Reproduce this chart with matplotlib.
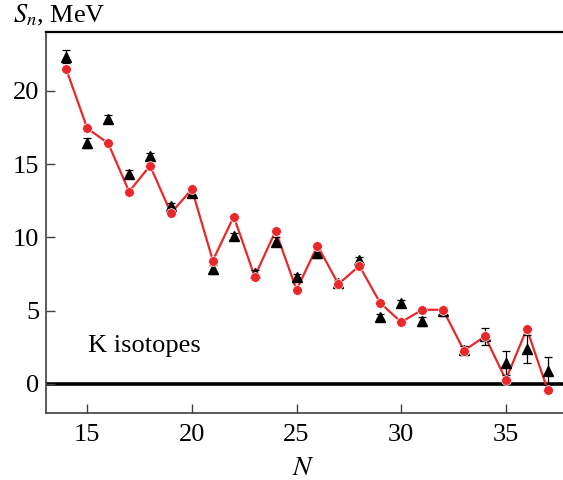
import matplotlib
matplotlib.use('Agg')
import matplotlib.pyplot as plt

plt.rcParams['font.family'] = ['Liberation Serif', 'DejaVu Serif']
plt.rcParams['mathtext.fontset'] = 'stix'

# neutron number
N = [14, 15, 16, 17, 18, 19, 20, 21, 22, 23, 24, 25, 26, 27, 28,
     29, 30, 31, 32, 33, 34, 35, 36, 37]
# calculation (red)
sn_calc = [21.46, 17.44, 16.42, 13.12, 14.89, 11.66, 13.28, 8.42, 11.42, 7.33,
           10.44, 6.42, 9.44, 6.81, 8.06, 5.52, 4.22, 5.06, 5.06, 2.27,
           3.25, 0.29, 3.77, -0.43]
# experiment (black triangles)
sn_exp = [22.32, 16.42, 18.07, 14.33, 15.55, 12.17, 13.0, 7.83, 10.1, 7.6,
          9.71, 7.33, 8.92, 6.88, 8.47, 4.6, 5.5, 4.27, 4.95, 2.3,
          3.25, 1.43, 2.4, 0.9]
sn_err = [0.45, 0.35, 0.3, 0.3, 0.2, 0.2, 0.2, 0.3, 0.2, 0.2,
          0.3, 0.2, 0.3, 0.2, 0.2, 0.2, 0.2, 0.3, 0.3, 0.3,
          0.6, 0.8, 0.95, 0.95]

fig = plt.figure(figsize=(5.63, 4.8), dpi=100)
ax = fig.add_axes([0.0817, 0.139, 0.9183, 0.794])

ax.axhline(0, color='black', lw=2.6, zorder=1)

ax.plot(N, sn_calc, '-', color='#e8282a', lw=1.6, zorder=2)
ax.plot(N, sn_calc, 'o', color='#e8282a', ms=7, mec='white', mew=0.5, zorder=4)

ax.errorbar(N, sn_exp, yerr=sn_err, fmt='^', color='black', ms=7,
            elinewidth=0.9, capsize=3, capthick=0.9, zorder=3)

ax.set_xlim(13.03, 37.73)
ax.set_ylim(-2, 24)
ax.set_xticks([15, 20, 25, 30, 35])
ax.set_yticks([0, 5, 10, 15, 20])

ax.spines['right'].set_visible(False)
for s in ['left', 'bottom']:
    ax.spines[s].set_color('#404040')
    ax.spines[s].set_linewidth(1.2)
ax.spines['top'].set_color('black')
ax.spines['top'].set_linewidth(1.6)

ax.tick_params(direction='in', length=6.5, width=1, color='#404040',
               labelsize=19)
ax.tick_params(axis='x', pad=8)
ax.tick_params(axis='y', pad=5)

ax.text(15.05, 2.2, 'K isotopes', fontsize=19, va='baseline')
# axis titles
fig.text(303 / 563, 1 - 475 / 480, '$N$', fontsize=20, ha='center', va='baseline')
fig.text(0.023, 0.954, '$S_n$, MeV', fontsize=19, va='baseline')

fig.savefig('out.png', dpi=100)
